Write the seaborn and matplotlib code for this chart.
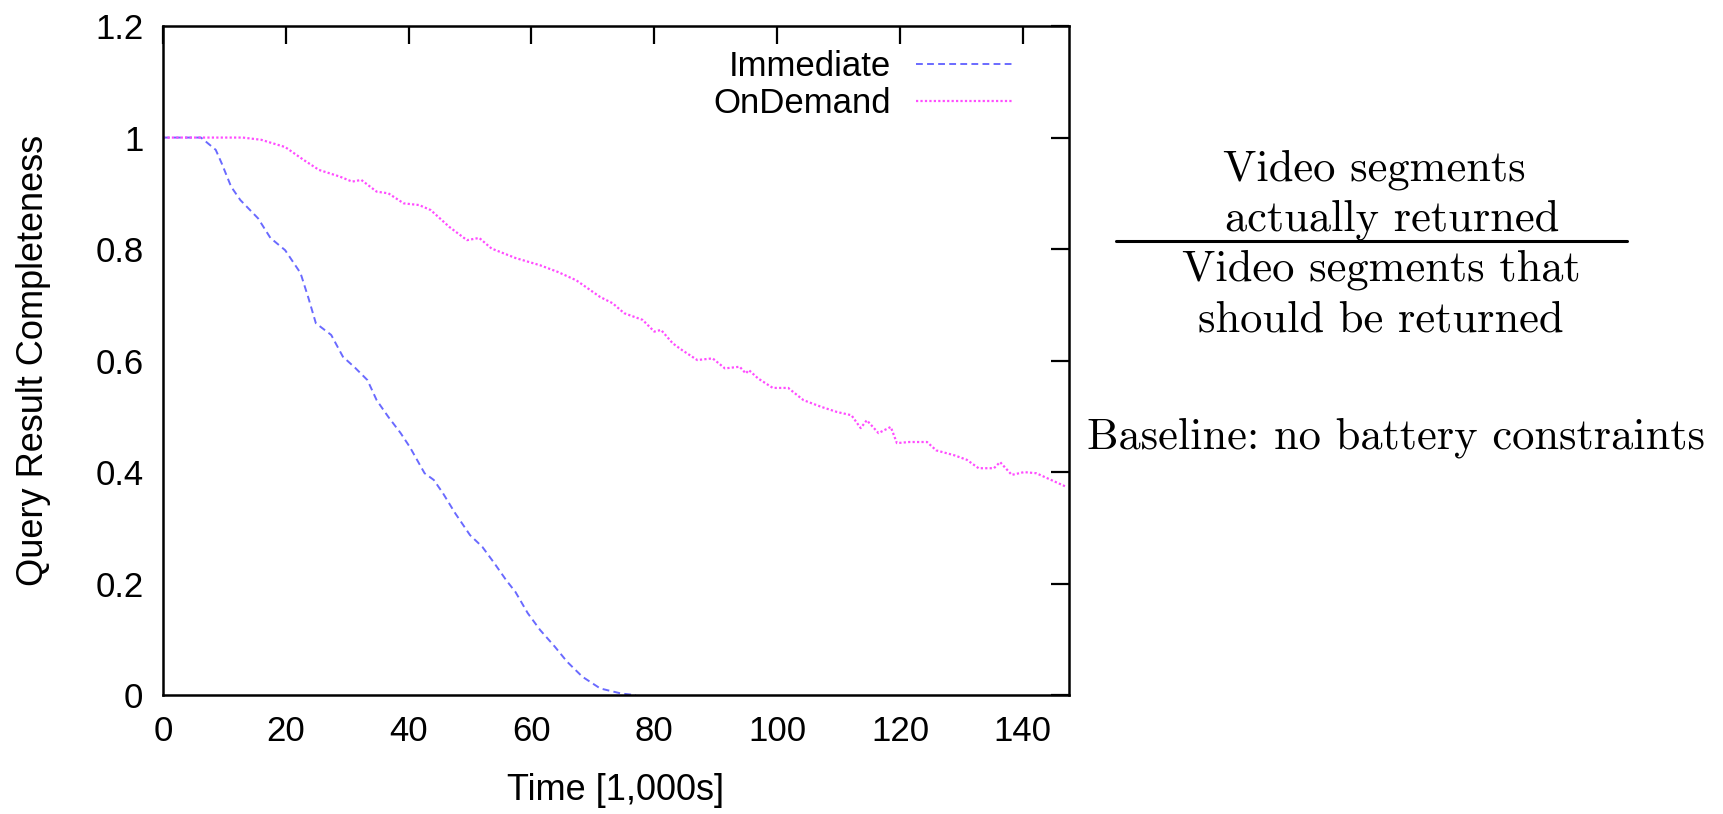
import matplotlib
matplotlib.use("Agg")
import matplotlib.pyplot as plt
import seaborn as sns
import pandas as pd

# Immediate policy (time in 1,000s, completeness)
imm_time = [0, 4, 6.2, 8.6, 9.6, 11.1, 12.6, 15.5, 17.5, 19.9, 22.4, 23.7, 24.9, 27.4,
            29.3, 31.3, 33.3, 34.8, 36.7, 38.7, 40.2, 42.6, 44.1, 45.6, 47.6, 50.0,
            52.0, 54.0, 55.9, 57.4, 59.4, 61.4, 63.8, 65.8, 68.3, 71.2, 74.6, 77.0]
imm_vals = [1.0, 1.0, 1.0, 0.978, 0.953, 0.912, 0.888, 0.855, 0.82, 0.798, 0.757, 0.712,
            0.667, 0.646, 0.607, 0.587, 0.565, 0.529, 0.499, 0.47, 0.445, 0.398, 0.386,
            0.362, 0.326, 0.287, 0.266, 0.236, 0.206, 0.185, 0.147, 0.117, 0.087, 0.06,
            0.033, 0.012, 0.003, 0.0]

# OnDemand policy
ond_time = [0, 8, 13, 16, 19.9, 22.9, 25.4, 28.8, 30.8, 32.3, 34.8, 36.7, 39.2, 41.7,
            43.6, 46.6, 49.5, 51.5, 53.5, 57.4, 61.4, 64.3, 67.3, 71.2, 73.2, 75.1,
            78.1, 80.0, 81.1, 83.0, 84.5, 87.0, 89.5, 91.5, 93.9, 94.9, 95.4, 96.9,
            99.3, 101.8, 104.3, 107.2, 109.7, 112.1, 113.6, 114.6, 116.5, 118.5, 119.5,
            121.5, 124.4, 125.9, 128.9, 130.9, 132.8, 135.3, 136.3, 138.2, 140.2,
            142.2, 144.6, 147.0]
ond_vals = [1.0, 1.0, 1.0, 0.996, 0.983, 0.96, 0.942, 0.93, 0.921, 0.924, 0.903, 0.9,
            0.882, 0.879, 0.87, 0.84, 0.816, 0.82, 0.801, 0.784, 0.771, 0.759, 0.744,
            0.714, 0.703, 0.685, 0.673, 0.652, 0.655, 0.631, 0.619, 0.601, 0.604,
            0.586, 0.589, 0.577, 0.583, 0.568, 0.551, 0.551, 0.529, 0.517, 0.508,
            0.502, 0.479, 0.493, 0.47, 0.481, 0.452, 0.454, 0.454, 0.439, 0.43,
            0.422, 0.407, 0.407, 0.418, 0.395, 0.4, 0.398, 0.386, 0.374]

x_ticks = [0, 20, 40, 60, 80, 100, 120, 140]
y_ticks = [0, 0.2, 0.4, 0.6, 0.8, 1.0, 1.2]
y_labels = ['0', '0.2', '0.4', '0.6', '0.8', '1', '1.2']

sns.set_style('white')
plt.rcParams['font.family'] = ['Liberation Sans', 'DejaVu Sans']
plt.rcParams['text.color'] = 'black'
plt.rcParams['axes.labelcolor'] = 'black'
plt.rcParams['xtick.color'] = 'black'
plt.rcParams['ytick.color'] = 'black'

fig = plt.figure(figsize=(17.24, 8.14), dpi=100)
ax = fig.add_axes([0.0945, 0.146, 0.5255, 0.822])

df_imm = pd.DataFrame({'Time': imm_time, 'Completeness': imm_vals})
df_ond = pd.DataFrame({'Time': ond_time, 'Completeness': ond_vals})

sns.lineplot(data=df_imm, x='Time', y='Completeness', ax=ax, color='#6a6aff',
             linestyle=(0, (3.5, 2.2)), linewidth=1.4, label='Immediate', estimator=None)
sns.lineplot(data=df_ond, x='Time', y='Completeness', ax=ax, color='#ff4cff',
             linestyle=(0, (1, 1)), linewidth=1.6, label='OnDemand', estimator=None)

ax.set_xlim(0, 147.5)
ax.set_ylim(0, 1.2)
ax.set_xticks(x_ticks)
ax.set_yticks(y_ticks)
ax.set_yticklabels(y_labels)
ax.tick_params(direction='in', length=13, width=1.6, labelsize=25,
               top=True, right=True, pad=14, colors='black')
for s in ax.spines.values():
    s.set_linewidth(1.8)
    s.set_color('black')
    s.set_visible(True)

ax.set_xlabel('Time [1,000s]', fontsize=26, labelpad=18)
ax.set_ylabel('Query Result Completeness', fontsize=26, labelpad=32)

ax.legend(loc='upper right', frameon=False, fontsize=25, markerfirst=False,
          handlelength=2.8, handletextpad=0.7, labelspacing=0.1,
          borderaxespad=0.3, bbox_to_anchor=(0.965, 1.0))

# Annotation on the right
serif = ['cmr10', 'DejaVu Serif']
fs = 32
fig.text(1374 / 1724, 1 - 170 / 814, 'Video segments', family=serif, fontsize=fs,
         ha='center', va='center')
fig.text(1392 / 1724, 1 - 220 / 814, 'actually returned', family=serif, fontsize=fs,
         ha='center', va='center')
fig.add_artist(plt.Line2D([1116 / 1724, 1627 / 1724], [1 - 241 / 814, 1 - 241 / 814],
                          color='black', linewidth=2.2))
fig.text(1381 / 1724, 1 - 270 / 814, 'Video segments that', family=serif, fontsize=fs,
         ha='center', va='center')
fig.text(1381 / 1724, 1 - 320 / 814, 'should be returned', family=serif, fontsize=fs,
         ha='center', va='center')
fig.text(1396 / 1724, 1 - 438 / 814, 'Baseline: no battery constraints', family=serif,
         fontsize=fs, ha='center', va='center')

fig.savefig('out.png', dpi=100)
